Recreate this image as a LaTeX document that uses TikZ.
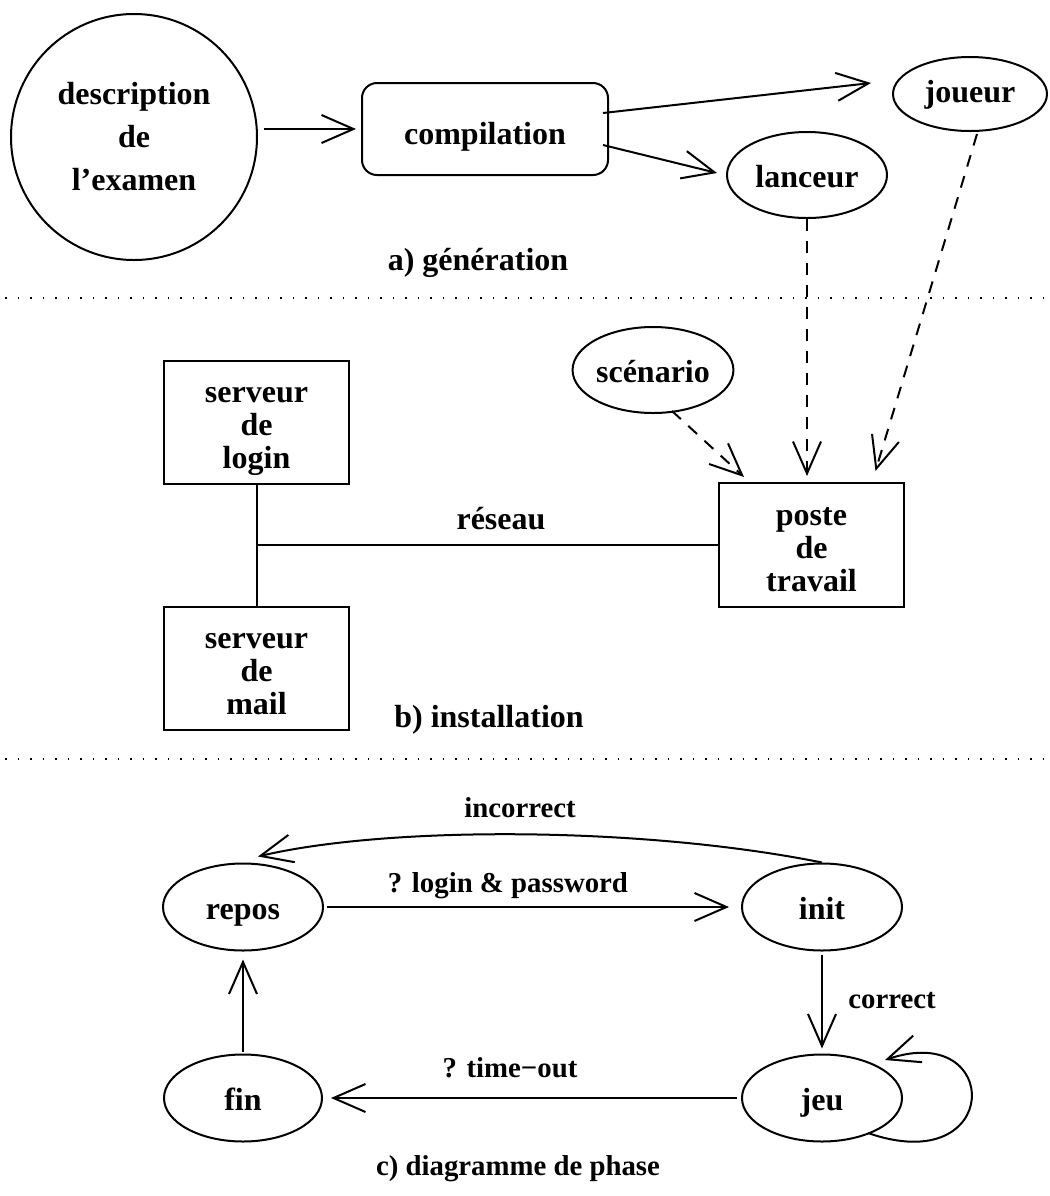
\documentclass[tikz,border=0pt]{standalone}
\usepackage{fontspec}
\setmainfont{Liberation Serif}
\usetikzlibrary{shapes.geometric,arrows.meta,calc}
\newcommand\tstr{\rule{0pt}{18pt}}
\newcommand\bstr{\rule[-5pt]{0pt}{5pt}}
\begin{document}
\begin{tikzpicture}[x=0.5pt,y=-0.5pt,line width=1pt,
  every node/.style={font=\bfseries\fontsize{16}{16.5}\selectfont,align=center,inner sep=0pt},
  one/.style={text height=12.5pt,text depth=0.5pt},
  lbl/.style={font=\bfseries\fontsize{14.4}{16}\selectfont,text height=10pt,text depth=0pt},
  ell/.style={ellipse,draw,one,minimum width=80pt,minimum height=43pt},
  box/.style={rectangle,draw,minimum width=92.5pt,minimum height=61.5pt},
  arr/.style={-{Straight Barb[length=16pt,width=14pt]}},
  darr/.style={arr,dash pattern=on 6pt off 5pt},
  sep/.style={line width=1pt,dash pattern=on 0.9pt off 5.35pt}]
\useasboundingbox (0,0) rectangle (1050,1196);

% ---- a) generation
\node[circle,draw,minimum size=123pt,font=\bfseries\fontsize{16}{21.5}\selectfont] (desc) at (134,137) {description\\de\\l'examen};
\node[draw,rounded corners=7.5pt,minimum width=123pt,minimum height=46pt,text height=15.5pt,text depth=0.5pt] (comp) at (485,129) {compilation};
\node[ell,minimum width=77pt,minimum height=37pt,text height=9pt,text depth=1pt] (joueur) at (970,94) {joueur};
\node[ell] (lanceur) at (807,175) {lanceur};
\node[one] (la) at (478,258) {a) génération};

\draw[arr,shorten <=3pt,shorten >=2.5pt] (desc.east |- comp.west) -- (comp.west);
\draw[arr] ($(comp.east)+(-6,-16)$) -- ($(joueur.west)+(-21,-11)$);
\draw[arr] ($(comp.east)+(-6,16)$) -- ($(lanceur.west)+(-9,-2)$);

\draw[sep] (5,298) -- (1050,298);

% ---- b) installation
\node[ell] (scen) at (653,370) {scénario};
\node[box,minimum height=62pt] (poste) at (811.5,545) {\tstr poste\\de\\travail\bstr};
\node[box] (login) at (256.5,422.5) {\tstr serveur\\de\\login\bstr};
\node[box] (mail) at (256.5,668.5) {\tstr serveur\\de\\mail\bstr};
\node[one] (res) at (501,517) {réseau};
\node[one] (lb) at (489,715) {b) installation};

\draw (login) -- (mail);
\coordinate (jn) at (login.south |- poste.west);
\draw (jn) -- (poste.west);
\draw[darr,shorten >=3pt] (lanceur.south) -- (lanceur.south |- poste.north);
\draw[darr] ($(joueur.south)+(7,2)$) -- ($(poste.north)+(64,-11)$);
\draw[darr] ($(scen.south)+(19,-3)$) -- ($(poste.north west)+(26,-5)$);

\draw[sep] (5,759) -- (1050,759);

% ---- c) diagramme de phase
\node[ell,minimum height=43.5pt] (repos) at (243,907) {repos};
\node[ell,minimum height=43.5pt] (init) at (822,907) {init};
\node[ell,minimum height=43.5pt] (jeu) at (822,1098) {jeu};
\node[ell,minimum width=79pt,minimum height=43.5pt] (fin) at (243,1098) {fin};

\node[lbl] (lincorrect) at (520,807) {incorrect};
\node[lbl] (llogin) at (508,882) {? login \& password};
\node[lbl] (lcorrect) at (892,998) {correct};
\node[lbl] (ltime) at (510,1067) {? time−out};
\node[lbl] (lc) at (518,1165) {c) diagramme de phase};

\draw[arr,shorten <=1.5pt,shorten >=6pt] (repos) -- (init);
\draw[arr] (init.north) .. controls (640,826) and (387,826) .. ($(repos.north)+(15,-6)$);
\draw[arr,shorten <=1.5pt,shorten >=2.5pt] (init) -- (jeu);
\draw[arr] ($(jeu.center)+(46,35)$) .. controls (1003,1180) and (1003,1020) .. ($(jeu.center)+(63,-38)$);
\draw[arr,shorten <=2pt,shorten >=4pt] (jeu) -- (fin);
\draw[arr,shorten <=1pt,shorten >=4pt] (fin) -- (repos);
\end{tikzpicture}
\end{document}
